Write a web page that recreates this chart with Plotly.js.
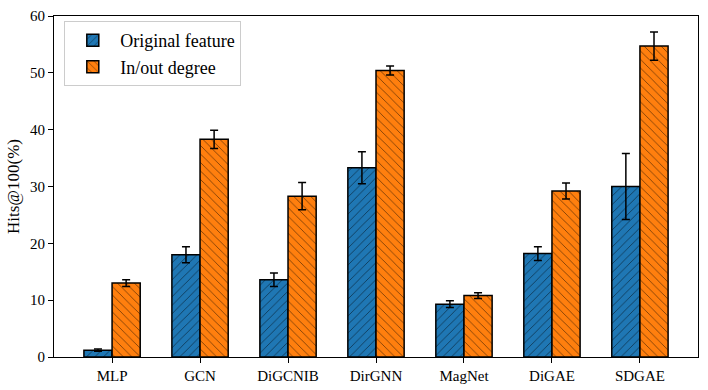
<!DOCTYPE html>
<html>
<head>
<meta charset="utf-8">
<script src="https://cdn.plot.ly/plotly-3.0.1.min.js"></script>
<style>
  html, body { margin: 0; padding: 0; background: #fff; }
  #plot { width: 708px; height: 390px; }
</style>
</head>
<body>
<div id="plot"></div>
<script>
const models = ["MLP", "GCN", "DiGCNIB", "DirGNN", "MagNet", "DiGAE", "SDGAE"];
const origMean = [1.2, 18.0, 13.6, 33.3, 9.3, 18.2, 30.0];
const origErr = [0.2, 1.4, 1.2, 2.8, 0.6, 1.2, 5.8];
const degMean = [13.0, 38.3, 28.3, 50.4, 10.8, 29.2, 54.7];
const degErr = [0.6, 1.6, 2.4, 0.8, 0.5, 1.4, 2.5];

const serif = "Liberation Serif";

function barTrace(name, y, err, color, shape) {
  return {
    type: "bar",
    name: name,
    x: models,
    y: y,
    error_y: { type: "data", array: err, visible: true, color: "#000", thickness: 1.5, width: 4 },
    marker: {
      color: color,
      line: { color: "#000", width: 1.5 },
      pattern: { shape: shape, fgcolor: "#000", bgcolor: color, size: 6, solidity: 0.15, fillmode: "overlay" }
    }
  };
}

const data = [
  barTrace("Original feature", origMean, origErr, "#1f77b4", "/"),
  barTrace("In/out degree", degMean, degErr, "#ff7f0e", "\\")
];

const layout = {
  width: 708,
  height: 390,
  margin: { l: 54, r: 10, t: 16, b: 33 },
  paper_bgcolor: "#fff",
  plot_bgcolor: "#fff",
  font: { family: serif, size: 16, color: "#000" },
  barmode: "group",
  bargap: 0.36,
  bargroupgap: 0,
  showlegend: true,
  legend: {
    x: 0.016, y: 0.985, xanchor: "left", yanchor: "top",
    bordercolor: "#cccccc", borderwidth: 1, bgcolor: "rgba(255,255,255,0.8)",
    font: { family: serif, size: 18, color: "#000" },
    itemwidth: 45,
    tracegroupgap: 2
  },
  xaxis: {
    range: [-0.66, 6.66],
    showline: true, linecolor: "#000", linewidth: 1, mirror: true,
    ticks: "outside", ticklen: 5, tickcolor: "#000",
    showgrid: false, zeroline: false,
    tickfont: { family: serif, size: 15 }
  },
  yaxis: {
    range: [0, 60],
    dtick: 10,
    showline: true, linecolor: "#000", linewidth: 1, mirror: true,
    ticks: "outside", ticklen: 5, tickcolor: "#000",
    showgrid: false, zeroline: false,
    tickfont: { family: serif, size: 15 },
    title: { text: "Hits@100(%)", font: { family: serif, size: 17 }, standoff: 6 }
  }
};

Plotly.newPlot("plot", data, layout, { displayModeBar: false, staticPlot: true });
</script>
</body>
</html>
